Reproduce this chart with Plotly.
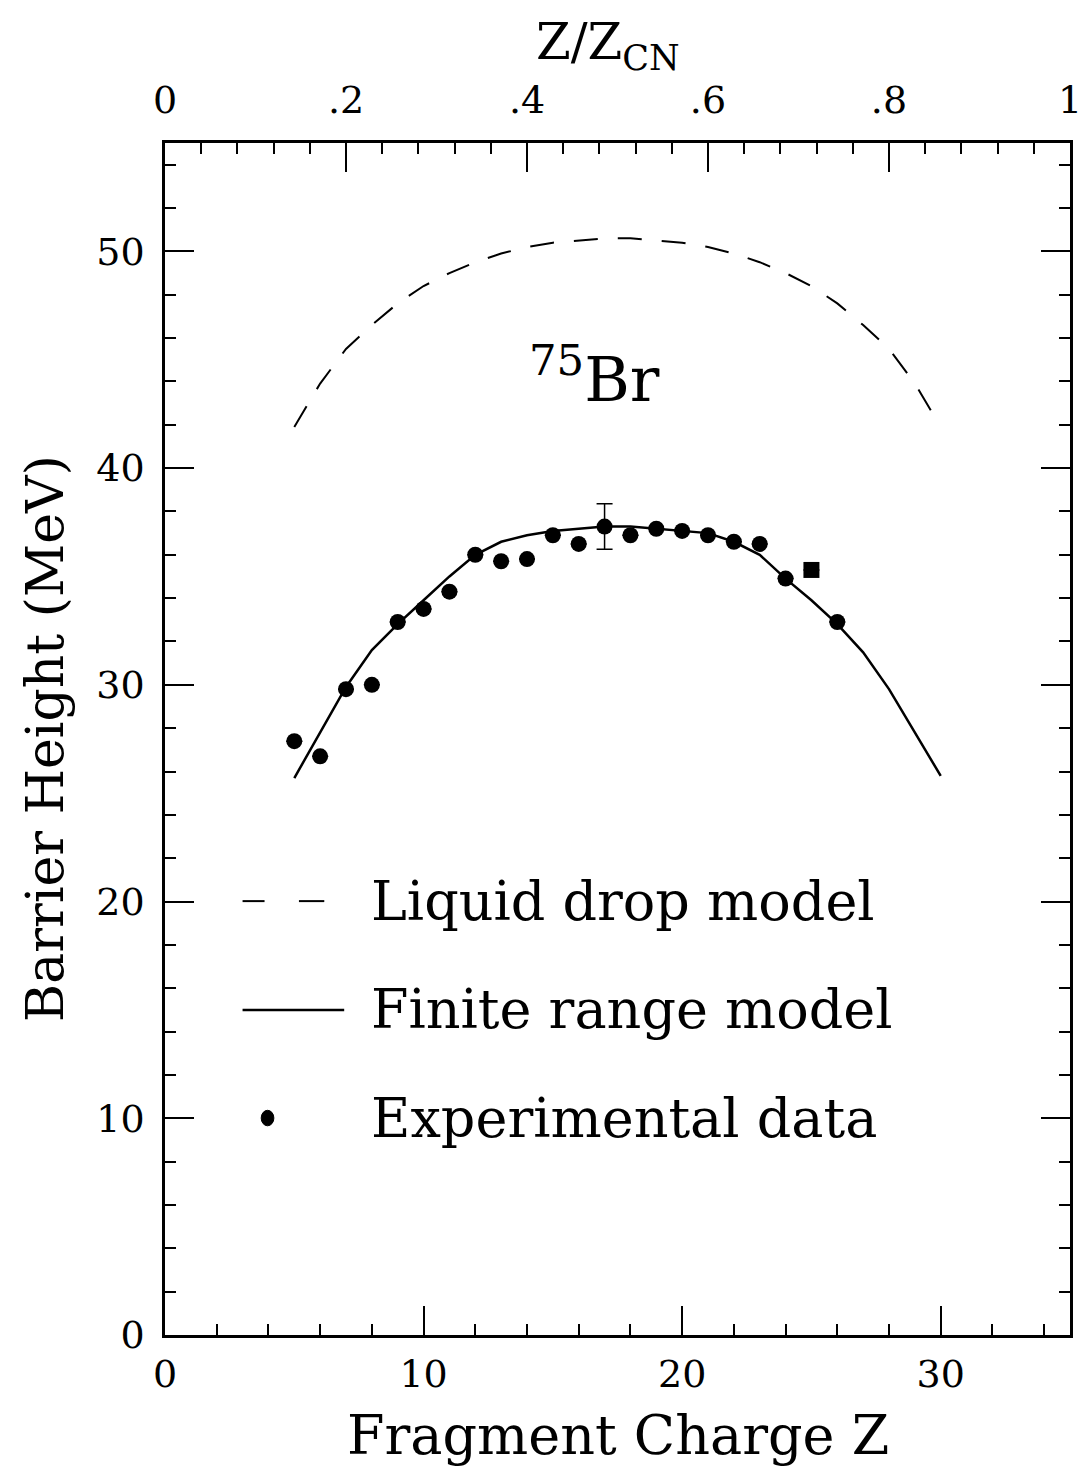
import plotly.graph_objects as go

# ---- data ----
exp_z = [5, 6, 7, 8, 9, 10, 11, 12, 13, 14, 15, 16, 17, 18, 19, 20, 21, 22, 23, 24, 25, 26]
exp_b = [27.4, 26.7, 29.8, 30.0, 32.9, 33.5, 34.3, 36.0, 35.7, 35.8, 36.9, 36.5, 37.3,
         36.9, 37.2, 37.1, 36.9, 36.6, 36.5, 34.9, 35.3, 32.9]
exp_err = [0, 0, 0, 0, 0, 0, 0, 0, 0, 0, 0, 0, 1.05, 0, 0, 0, 0, 0, 0, 0, 0, 0]
exp_sym = ["circle"] * 20 + ["square", "circle"]

model_z = list(range(5, 31))
finite_range = [25.7, 27.8, 29.9, 31.6, 32.8, 33.9, 35.0, 36.0, 36.6, 36.9, 37.1, 37.2, 37.3,
                37.3, 37.2, 37.1, 37.0, 36.6, 36.0, 34.9, 33.9, 32.8, 31.5, 29.8, 27.8, 25.8]
liquid_drop = [41.9, 43.9, 45.5, 46.6, 47.6, 48.4, 49.0, 49.5, 49.9, 50.2, 50.4, 50.5, 50.6,
               50.6, 50.5, 50.4, 50.2, 49.9, 49.5, 49.0, 48.4, 47.6, 46.6, 45.5, 43.9, 41.9]

z_cn = 35
top_ticks = [0, 0.2, 0.4, 0.6, 0.8, 1.0]
top_labels = ["0", ".2", ".4", ".6", ".8", "1"]

FONT = "DejaVu Serif"

fig = go.Figure()
fig.add_trace(go.Scatter(x=model_z, y=liquid_drop, mode="lines",
                         line=dict(color="black", width=2, dash="24px,20px"),
                         showlegend=False, name="Liquid drop model"))
fig.add_trace(go.Scatter(x=model_z, y=finite_range, mode="lines",
                         line=dict(color="black", width=2.5),
                         showlegend=False, name="Finite range model"))
fig.add_trace(go.Scatter(x=exp_z, y=exp_b, mode="markers",
                         marker=dict(color="black", size=16, symbol=exp_sym),
                         error_y=dict(type="data", array=exp_err, visible=True,
                                      color="black", thickness=1.5, width=8),
                         showlegend=False, name="Experimental data"))
# invisible trace to activate top axis
fig.add_trace(go.Scatter(x=[z / z_cn for z in exp_z], y=exp_b, xaxis="x2", mode="markers",
                         marker=dict(opacity=0), hoverinfo="skip", showlegend=False))

axis_common = dict(showline=True, linecolor="black", linewidth=2.5, ticks="inside",
                   tickcolor="black", tickwidth=2, ticklen=29, showgrid=False, zeroline=False,
                   tickfont=dict(family=FONT, size=38, color="black"),
                   ticklabeloverflow="allow", automargin=False)

fig.update_layout(
    width=1083, height=1468,
    margin=dict(l=165, r=13, t=143, b=133),
    paper_bgcolor="white", plot_bgcolor="white",
    font=dict(family=FONT, color="black"),
    xaxis=dict(range=[0, 35], tickvals=[0, 10, 20, 30], ticklabelstandoff=4,
               minor=dict(dtick=2, ticks="inside", ticklen=11, tickwidth=2, tickcolor="black"),
               **axis_common),
    xaxis2=dict(range=[0, 1.00001], overlaying="x", side="top", tickvals=top_ticks,
                ticktext=top_labels, ticklabelstandoff=12,
                minor=dict(dtick=0.04, ticks="inside", ticklen=11, tickwidth=2, tickcolor="black"),
                **axis_common),
    yaxis=dict(range=[0, 55], tickvals=[0, 10, 20, 30, 40, 50], mirror="ticks",
               ticklabelstandoff=10,
               minor=dict(dtick=2, ticks="inside", ticklen=11, tickwidth=2, tickcolor="black"),
               **axis_common),
)

# axis titles
fig.add_annotation(text="Fragment Charge Z", xref="paper", yref="paper", x=0.5, y=0,
                   yshift=-100, showarrow=False, font=dict(size=54, family=FONT),
                   xanchor="center", yanchor="middle")
fig.add_annotation(text="Barrier Height (MeV)", xref="paper", yref="paper", x=0, y=0.5,
                   xshift=-120, textangle=-90, showarrow=False, font=dict(size=52, family=FONT),
                   xanchor="center", yanchor="middle")
fig.add_annotation(text="Z/Z<sub>CN</sub>", xref="paper", yref="paper", x=0.49, y=1,
                   yshift=98, showarrow=False, font=dict(size=50, family=FONT),
                   xanchor="center", yanchor="middle")
fig.add_annotation(text="<sup>75</sup>Br", xref="paper", yref="paper", x=0.475, y=0.805,
                   showarrow=False, font=dict(size=62, family=FONT),
                   xanchor="center", yanchor="middle")

# legend
leg_rows = [("Liquid drop model", 0.364), ("Finite range model", 0.2727), ("Experimental data", 0.182)]
fig.add_shape(type="line", xref="paper", yref="paper", x0=0.0857, x1=0.11, y0=0.364, y1=0.364,
              line=dict(color="black", width=2))
fig.add_shape(type="line", xref="paper", yref="paper", x0=0.148, x1=0.176, y0=0.364, y1=0.364,
              line=dict(color="black", width=2))
fig.add_shape(type="line", xref="paper", yref="paper", x0=0.0857, x1=0.198, y0=0.2727, y1=0.2727,
              line=dict(color="black", width=2.5))
fig.add_shape(type="circle", xref="paper", yref="paper", x0=0.1063, x1=0.1203,
              y0=0.1755, y1=0.1885, fillcolor="black", line=dict(color="black", width=1))
for text, yy in leg_rows:
    fig.add_annotation(text=text, xref="paper", yref="paper", x=0.2253, y=yy,
                       showarrow=False, font=dict(size=54, family=FONT),
                       xanchor="left", yanchor="middle")

fig.write_html("out.html")
